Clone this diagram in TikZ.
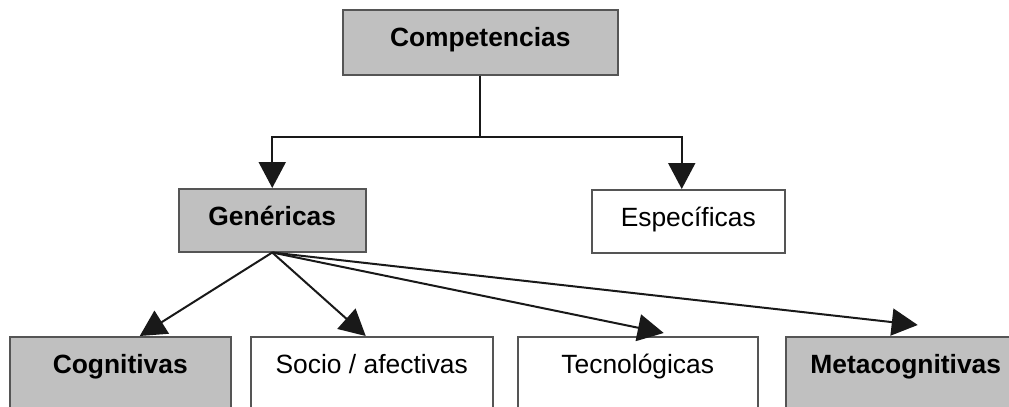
\documentclass[tikz,border=0pt]{standalone}
\usepackage{fontspec}
\setmainfont{Liberation Sans}
\usetikzlibrary{arrows.meta}
\definecolor{boxgrey}{RGB}{192,192,192}
\definecolor{rimgrey}{RGB}{85,85,85}
\tikzset{
  plainbox/.style = {shape=rectangle, draw=rimgrey, line width=0.75pt,
                     fill=white, anchor=north west, align=center,
                     inner xsep=0pt, inner ysep=0pt,
                     font=\fontsize{13.2}{15}\selectfont,
                     text height=18.5pt, text depth=13pt},
  greybox/.style  = {plainbox, fill=boxgrey,
                     font=\fontsize{13.2}{15}\selectfont\bfseries},
  lowrow/.style   = {text depth=40pt},
  link/.style     = {draw=black!90, line width=1pt,
                     -{Triangle[length=13pt,width=13.5pt]}}
}

\begin{document}
\begin{tikzpicture}
  [
    x = 0.5pt,
    y = -0.5pt
  ]
  \useasboundingbox (0,0) rectangle (1009,407);
  \clip (0,0) rectangle (1009,407);

  % top and middle
  \node [greybox, minimum width=137.5pt, text depth=14pt] (comp) at (342,9) {Competencias};
  \node [greybox, minimum width=93.5pt] (gen) at (178,188) {Genéricas};
  \node [plainbox, minimum width=96.5pt] (esp) at (591,189) {Específicas};

  % bottom row
  \node [greybox, lowrow, minimum width=110.5pt] (cog) at (9,336) {Cognitivas};
  \node [plainbox, lowrow, minimum width=121pt] (soc) at (250,336) {Socio / afectivas};
  \node [plainbox, lowrow, minimum width=120pt] (tec) at (517,336) {Tecnológicas};
  \node [greybox, lowrow, minimum width=120pt] (meta) at (785,336) {Metacognitivas};

  \draw [link] (comp.south) -- ++(0,61) -| (gen.north);
  \draw [link] (comp.south) -- ++(0,61) -| ([xshift=-3.25pt]esp.north);

  \draw [link] (gen.south) -- ([xshift=9.75pt]cog.north);
  \draw [link] (gen.south) -- ([xshift=-3pt]soc.north);
  \draw [link] (gen.south) -- ([xshift=13pt,yshift=1.5pt]tec.north);
  \draw [link] (gen.south) -- ([xshift=6pt,yshift=5.5pt]meta.north);
\end{tikzpicture}
\end{document}
